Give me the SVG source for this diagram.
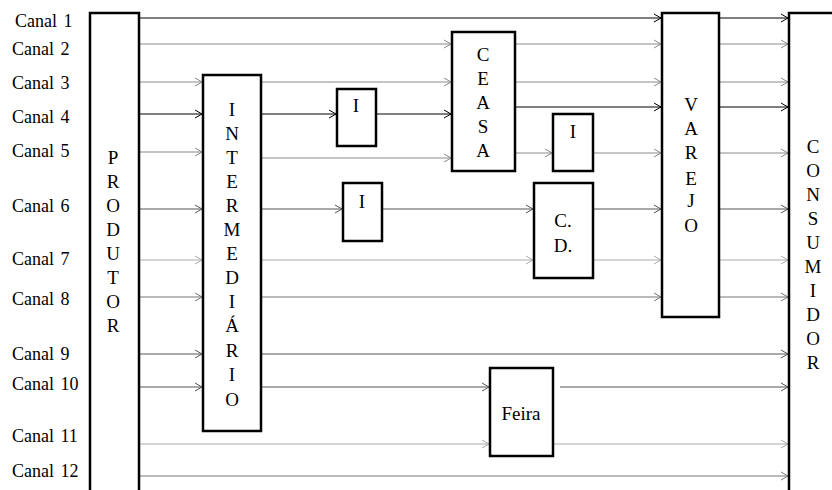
<svg xmlns="http://www.w3.org/2000/svg" width="832" height="490" viewBox="0 0 832 490" font-family="'Liberation Serif', 'Times New Roman', Times, 'DejaVu Serif', serif" font-size="19">
<style>
.box{fill:#fff;stroke:#000;stroke-width:2.5}
.v{text-anchor:middle}
.lab{font-size:18px;word-spacing:2px}
.c line{stroke-width:1;fill:none}
.k{stroke:#000}
.d{stroke:#555}
.g{stroke:#777}
.m{stroke:#8a8a8a}
.l{stroke:#aaa}
</style>
<defs>
<marker id="ak" markerUnits="userSpaceOnUse" markerWidth="9" markerHeight="10" refX="8" refY="5" orient="auto"><path d="M1,1 L8,5 L1,9" fill="none" stroke="#000" stroke-width="1"/></marker>
<marker id="ad" markerUnits="userSpaceOnUse" markerWidth="9" markerHeight="10" refX="8" refY="5" orient="auto"><path d="M1,1 L8,5 L1,9" fill="none" stroke="#555" stroke-width="1"/></marker>
<marker id="ag" markerUnits="userSpaceOnUse" markerWidth="9" markerHeight="10" refX="8" refY="5" orient="auto"><path d="M1,1 L8,5 L1,9" fill="none" stroke="#777" stroke-width="1"/></marker>
<marker id="am" markerUnits="userSpaceOnUse" markerWidth="9" markerHeight="10" refX="8" refY="5" orient="auto"><path d="M1,1 L8,5 L1,9" fill="none" stroke="#8a8a8a" stroke-width="1"/></marker>
<marker id="al" markerUnits="userSpaceOnUse" markerWidth="9" markerHeight="10" refX="8" refY="5" orient="auto"><path d="M1,1 L8,5 L1,9" fill="none" stroke="#aaa" stroke-width="1"/></marker>
</defs>
<rect width="832" height="490" fill="#fff"/>

<g id="labels" class="lab">
<text x="15" y="27">Canal 1</text>
<text x="12" y="55">Canal 2</text>
<text x="12" y="89">Canal 3</text>
<text x="12" y="123">Canal 4</text>
<text x="12" y="157">Canal 5</text>
<text x="12" y="212">Canal 6</text>
<text x="12" y="265">Canal 7</text>
<text x="12" y="305">Canal 8</text>
<text x="12" y="360">Canal 9</text>
<text x="12" y="390">Canal 10</text>
<text x="12" y="442">Canal 11</text>
<text x="12" y="477">Canal 12</text>
</g>

<g id="connectors" class="c">
<line class="k" x1="140" y1="18" x2="661" y2="18" marker-end="url(#ak)"/>
<line class="k" x1="720" y1="18" x2="788" y2="18" marker-end="url(#ak)"/>
<line class="m" x1="140" y1="44" x2="451" y2="44" marker-end="url(#am)"/>
<line class="m" x1="516" y1="44" x2="661" y2="44" marker-end="url(#am)"/>
<line class="m" x1="720" y1="44" x2="788" y2="44" marker-end="url(#am)"/>
<line class="m" x1="140" y1="82" x2="202" y2="82" marker-end="url(#am)"/>
<line class="m" x1="262" y1="82" x2="451" y2="82" marker-end="url(#am)"/>
<line class="m" x1="516" y1="82" x2="661" y2="82" marker-end="url(#am)"/>
<line class="m" x1="720" y1="82" x2="788" y2="82" marker-end="url(#am)"/>
<line class="k" x1="140" y1="114" x2="202" y2="114" marker-end="url(#ak)"/>
<line class="k" x1="262" y1="114" x2="336" y2="114" marker-end="url(#ak)"/>
<line class="k" x1="377" y1="114" x2="451" y2="114" marker-end="url(#ak)"/>
<line class="k" x1="516" y1="107" x2="661" y2="107" marker-end="url(#ak)"/>
<line class="k" x1="720" y1="107" x2="788" y2="107" marker-end="url(#ak)"/>
<line class="m" x1="140" y1="152" x2="202" y2="152" marker-end="url(#am)"/>
<line class="m" x1="262" y1="158" x2="451" y2="158" marker-end="url(#am)"/>
<line class="m" x1="516" y1="153" x2="552" y2="153" marker-end="url(#am)"/>
<line class="m" x1="594" y1="153" x2="661" y2="153" marker-end="url(#am)"/>
<line class="m" x1="720" y1="153" x2="788" y2="153" marker-end="url(#am)"/>
<line class="d" x1="140" y1="209" x2="202" y2="209" marker-end="url(#ad)"/>
<line class="d" x1="262" y1="209" x2="342" y2="209" marker-end="url(#ad)"/>
<line class="d" x1="383" y1="209" x2="533" y2="209" marker-end="url(#ad)"/>
<line class="d" x1="594" y1="209" x2="661" y2="209" marker-end="url(#ad)"/>
<line class="d" x1="720" y1="209" x2="788" y2="209" marker-end="url(#ad)"/>
<line class="l" x1="140" y1="260" x2="202" y2="260" marker-end="url(#al)"/>
<line class="l" x1="262" y1="260" x2="533" y2="260" marker-end="url(#al)"/>
<line class="l" x1="594" y1="260" x2="661" y2="260" marker-end="url(#al)"/>
<line class="l" x1="720" y1="260" x2="788" y2="260" marker-end="url(#al)"/>
<line class="g" x1="140" y1="297" x2="202" y2="297" marker-end="url(#ag)"/>
<line class="g" x1="262" y1="297" x2="661" y2="297" marker-end="url(#ag)"/>
<line class="g" x1="720" y1="297" x2="788" y2="297" marker-end="url(#ag)"/>
<line class="d" x1="140" y1="354" x2="202" y2="354" marker-end="url(#ad)"/>
<line class="d" x1="262" y1="354" x2="788" y2="354" marker-end="url(#ad)"/>
<line class="d" x1="140" y1="387" x2="202" y2="387" marker-end="url(#ad)"/>
<line class="d" x1="262" y1="387" x2="489" y2="387" marker-end="url(#ad)"/>
<line class="d" x1="560" y1="387" x2="788" y2="387" marker-end="url(#ad)"/>
<line class="l" x1="140" y1="444" x2="489" y2="444" marker-end="url(#al)"/>
<line class="l" x1="548" y1="444" x2="788" y2="444" marker-end="url(#al)"/>
<line class="g" x1="140" y1="476" x2="788" y2="476" marker-end="url(#ag)"/>
</g>

<g id="produtor">
<rect class="box" x="90" y="13" width="49" height="490"/>
<text class="v" x="113" y="164">P</text>
<text class="v" x="113" y="188">R</text>
<text class="v" x="113" y="212">O</text>
<text class="v" x="113" y="236">D</text>
<text class="v" x="113" y="260">U</text>
<text class="v" x="113" y="284">T</text>
<text class="v" x="113" y="308">O</text>
<text class="v" x="113" y="332">R</text>
</g>

<g id="intermediario">
<rect class="box" x="203" y="75" width="58" height="356"/>
<text class="v" x="232" y="116">I</text>
<text class="v" x="232" y="140">N</text>
<text class="v" x="232" y="164">T</text>
<text class="v" x="232" y="188">E</text>
<text class="v" x="232" y="212">R</text>
<text class="v" x="232" y="236">M</text>
<text class="v" x="232" y="260">E</text>
<text class="v" x="232" y="284">D</text>
<text class="v" x="232" y="308">I</text>
<text class="v" x="232" y="332">Á</text>
<text class="v" x="232" y="357">R</text>
<text class="v" x="232" y="381">I</text>
<text class="v" x="232" y="406">O</text>
</g>

<g id="i1">
<rect class="box" x="337" y="89" width="39" height="57"/>
<text class="v" x="356" y="112">I</text>
</g>

<g id="i2">
<rect class="box" x="343" y="183" width="39" height="58"/>
<text class="v" x="362" y="208">I</text>
</g>

<g id="ceasa">
<rect class="box" x="452" y="32" width="63" height="139"/>
<text class="v" x="483" y="61">C</text>
<text class="v" x="483" y="85">E</text>
<text class="v" x="483" y="109">A</text>
<text class="v" x="483" y="133">S</text>
<text class="v" x="483" y="157">A</text>
</g>

<g id="i3">
<rect class="box" x="553" y="114" width="40" height="57"/>
<text class="v" x="573" y="138">I</text>
</g>

<g id="cd">
<rect class="box" x="534" y="183" width="59" height="95"/>
<text class="v" x="563" y="227">C.</text>
<text class="v" x="563" y="252">D.</text>
</g>

<g id="feira">
<rect class="box" x="490" y="368" width="63" height="88"/>
<text class="v" x="521" y="420">Feira</text>
</g>

<g id="varejo">
<rect class="box" x="662" y="13" width="57" height="304"/>
<text class="v" x="691" y="111">V</text>
<text class="v" x="691" y="135">A</text>
<text class="v" x="691" y="159">R</text>
<text class="v" x="691" y="185">E</text>
<text class="v" x="691" y="207">J</text>
<text class="v" x="691" y="232">O</text>
</g>

<g id="consumidor">
<rect class="box" x="789" y="13" width="80" height="490"/>
<text class="v" x="813" y="153">C</text>
<text class="v" x="813" y="177">O</text>
<text class="v" x="813" y="201">N</text>
<text class="v" x="813" y="225">S</text>
<text class="v" x="813" y="249">U</text>
<text class="v" x="813" y="273">M</text>
<text class="v" x="813" y="297">I</text>
<text class="v" x="813" y="321">D</text>
<text class="v" x="813" y="345">O</text>
<text class="v" x="813" y="369">R</text>
</g>
</svg>
